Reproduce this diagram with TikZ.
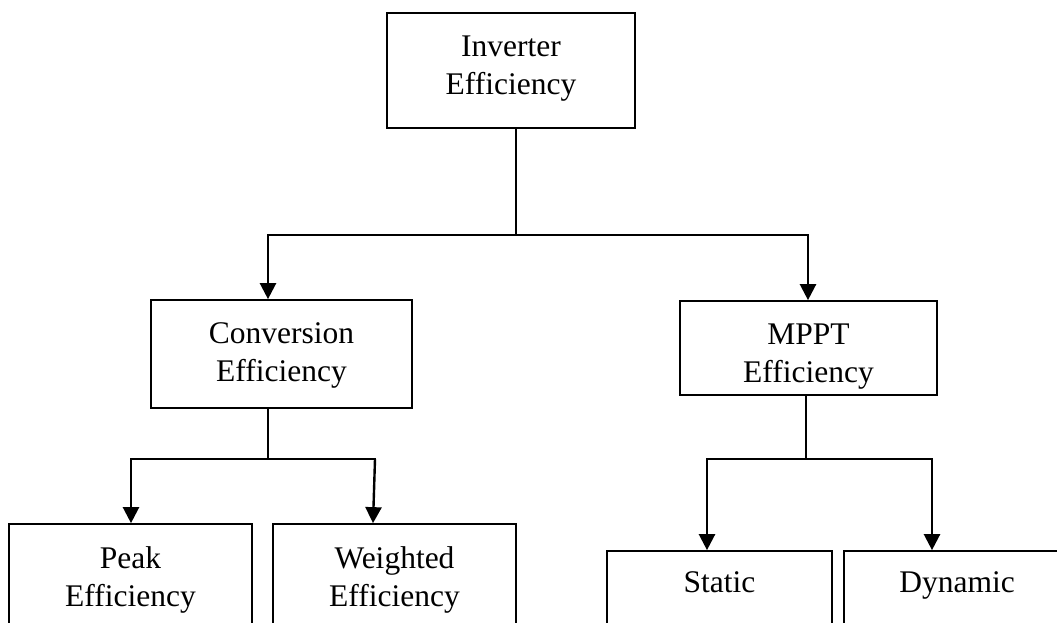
\documentclass[tikz,border=0pt]{standalone}
\usepackage{fontspec}
\setmainfont{Liberation Serif}
\usetikzlibrary{arrows.meta}
\begin{document}
\begin{tikzpicture}[x=1pt,y=-1pt,
  box/.style={draw=black, line width=1.7pt, inner sep=0pt},
  lbl/.style={font=\fontsize{31.5}{38}\selectfont, align=center, inner sep=0pt},
  conn/.style={line width=1.8pt, line cap=rect},
  arr/.style={line width=2.4pt, -{Triangle[width=16pt,length=16pt]}}]
\useasboundingbox (0,0) rectangle (1057,623);
\fill[white] (0,0) rectangle (1057,623);
\clip (0,0) rectangle (1057,623);
% boxes
\node[box, minimum width=248pt, minimum height=115pt] (inv) at (511,70.5) {};
\node[box, minimum width=261pt, minimum height=108pt] (conv) at (281.5,354) {};
\node[box, minimum width=257pt, minimum height=94pt] (mppt) at (808.5,348) {};
\node[box, minimum width=243pt, minimum height=108pt] (peak) at (130.5,578) {};
\node[box, minimum width=243pt, minimum height=108pt] (wt) at (394.5,578) {};
\node[box, minimum width=225pt, minimum height=108pt] (stat) at (719.5,605) {};
\node[box, minimum width=226pt, minimum height=108pt] (dyn) at (957,605) {};
% labels
\node[lbl] (invt) at (511,68.4) {\strut Inverter\\\strut Efficiency};
\node[lbl] (convt) at (281.5,354.4) {\strut Conversion\\\strut Efficiency};
\node[lbl] (mpptt) at (808.5,355.4) {\strut MPPT\\\strut Efficiency};
\node[lbl] (peakt) at (130.5,579.4) {\strut Peak\\\strut Efficiency};
\node[lbl] (wtt) at (394.5,579.4) {\strut Weighted\\\strut Efficiency};
\node[lbl] (statt) at (719.5,585) {\strut Static};
\node[lbl] (dynt) at (957,585) {\strut Dynamic};
% junction coordinates
\coordinate (a0) at (516,235);
\coordinate (al) at (268,235);
\coordinate (ar) at (808,235);
\coordinate (b0) at (268,459);
\coordinate (bl) at (131,459);
\coordinate (br) at (375,459);
\coordinate (brx) at (373,0);
\coordinate (c0) at (806,459);
\coordinate (cl) at (707,459);
\coordinate (cr) at (932,459);
% top level
\draw[conn] (inv.south -| a0) -- (a0);
\draw[conn] (al) -- (ar);
\draw[arr] (al) -- (al |- conv.north);
\draw[arr] (ar) -- (ar |- mppt.north);
% conversion branch
\draw[conn] (conv.south -| b0) -- (b0);
\draw[conn] (bl) -- (br);
\draw[arr] (bl) -- (bl |- peak.north);
\draw[arr] (br) -- (wt.north -| brx);
% mppt branch
\draw[conn] (mppt.south -| c0) -- (c0);
\draw[conn] (cl) -- (cr);
\draw[arr] (cl) -- (cl |- stat.north);
\draw[arr] (cr) -- (cr |- dyn.north);
\end{tikzpicture}
\end{document}
